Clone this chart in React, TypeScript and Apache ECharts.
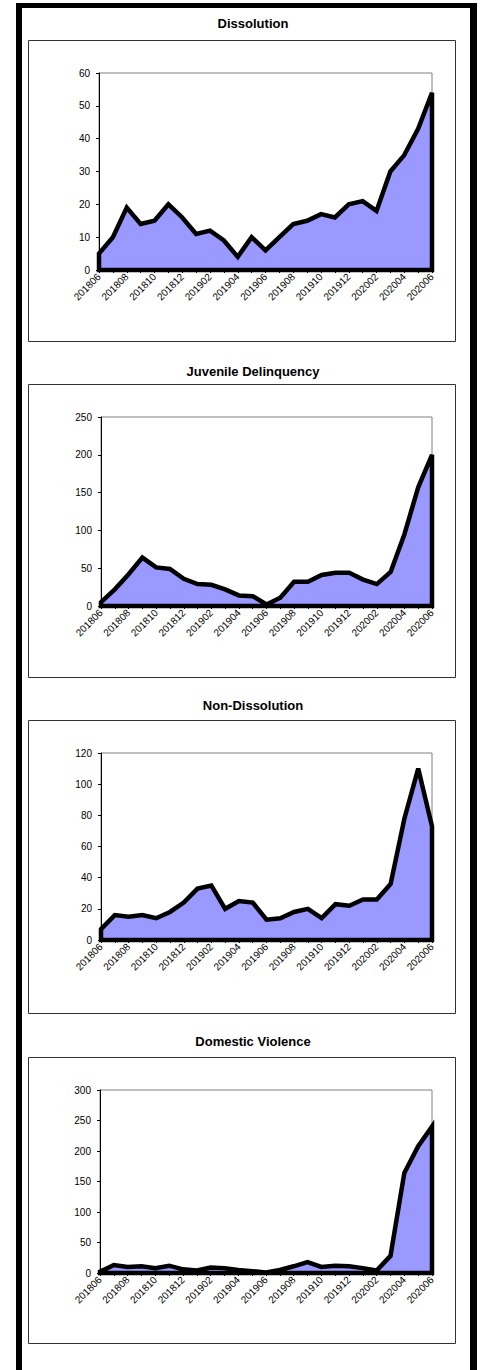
import React, { useEffect, useRef } from "react";
import * as echarts from "echarts";

const months = [
  "201806", "201807", "201808", "201809", "201810", "201811", "201812",
  "201901", "201902", "201903", "201904", "201905", "201906", "201907",
  "201908", "201909", "201910", "201911", "201912", "202001", "202002",
  "202003", "202004", "202005", "202006",
];

const dissolution = [5, 10, 19, 14, 15, 20, 16, 11, 12, 9, 4, 10, 6, 10, 14, 15, 17, 16, 20, 21, 18, 30, 35, 43, 54];
const juvenileDelinquency = [5, 22, 42, 64, 51, 49, 36, 29, 28, 22, 14, 13, 2, 11, 32, 32, 41, 44, 44, 35, 29, 45, 95, 157, 200];
const nonDissolution = [7, 16, 15, 16, 14, 18, 24, 33, 35, 20, 25, 24, 13, 14, 18, 20, 14, 23, 22, 26, 26, 36, 78, 110, 73];
const domesticViolence = [2, 13, 10, 11, 8, 12, 6, 4, 9, 8, 5, 3, 1, 5, 11, 18, 10, 12, 11, 8, 4, 28, 164, 208, 240];

const titles = ["Dissolution", "Juvenile Delinquency", "Non-Dissolution", "Domestic Violence"];
const yMax = [60, 250, 120, 300];
const yStep = [10, 50, 20, 50];
const seriesData = [dissolution, juvenileDelinquency, nonDissolution, domesticViolence];

const FONT = "'Liberation Sans', Arial, sans-serif";

// layout
const grids = [
  { left: 99, top: 73, width: 333, height: 197 },
  { left: 101, top: 417, width: 331, height: 189 },
  { left: 101, top: 753, width: 331, height: 187 },
  { left: 100, top: 1090, width: 332, height: 183 },
];
const frames = [
  { y: 40, h: 301 },
  { y: 384, h: 293 },
  { y: 720, h: 293 },
  { y: 1057, h: 286 },
];
const titleY = [12, 360, 694, 1030];

export default function App() {
  const ref = useRef<HTMLDivElement>(null);

  useEffect(() => {
    if (!ref.current) return;
    const chart = echarts.init(ref.current, undefined, { renderer: "svg" });

    const option: any = {
      animation: false,
      backgroundColor: "#ffffff",
      title: titles.map((t, i) => ({
        text: t,
        left: 248,
        top: titleY[i],
        textAlign: "center",
        textStyle: { fontFamily: FONT, fontSize: 13, fontWeight: "bold", color: "#000" },
      })),
      grid: grids.map((g) => ({
        ...g,
        show: true,
        borderColor: "#808080",
        borderWidth: 1,
        backgroundColor: "#ffffff",
        containLabel: false,
      })),
      xAxis: grids.map((_, i) => ({
        type: "category",
        gridIndex: i,
        data: months,
        boundaryGap: false,
        axisLine: { lineStyle: { color: "#000", width: 1 } },
        axisTick: { show: true, interval: 0, length: 3, lineStyle: { color: "#000" } },
        axisLabel: {
          interval: 1,
          rotate: 45,
          fontSize: 10,
          color: "#000",
          fontFamily: FONT,
          margin: 5,
        },
        splitLine: { show: false },
      })),
      yAxis: grids.map((_, i) => ({
        type: "value",
        gridIndex: i,
        min: 0,
        max: yMax[i],
        interval: yStep[i],
        axisLine: { show: true, lineStyle: { color: "#000", width: 1 } },
        axisTick: { show: true, length: 3, lineStyle: { color: "#000" } },
        axisLabel: { fontSize: 10, color: "#000", fontFamily: FONT, margin: 9 },
        splitLine: { show: false },
      })),
      series: seriesData.map((vals, gi) => ({
        type: "custom",
        xAxisIndex: gi,
        yAxisIndex: gi,
        data: vals.map((v, i) => [i, v]),
        encode: { x: 0, y: 1 },
        renderItem: (params: any, api: any) => {
          if (params.dataIndex !== 0) return null;
          const pts: number[][] = [api.coord([0, 0])];
          vals.forEach((v, i) => pts.push(api.coord([i, v])));
          pts.push(api.coord([vals.length - 1, 0]));
          return {
            type: "polygon",
            shape: { points: pts },
            style: { fill: "#9999FF", stroke: "#000000", lineWidth: 4.5, lineJoin: "miter" },
          };
        },
        z: 5,
      })),
      graphic: [
        // outer black border
        { type: "rect", shape: { x: 16, y: 3, width: 6, height: 1367 }, style: { fill: "#000" }, z: 100 },
        { type: "rect", shape: { x: 16, y: 3, width: 461, height: 5 }, style: { fill: "#000" }, z: 100 },
        { type: "rect", shape: { x: 470, y: 3, width: 7, height: 1367 }, style: { fill: "#000" }, z: 100 },
        // chart frames
        ...frames.map((f) => ({
          type: "rect",
          shape: { x: 28.5, y: f.y + 0.5, width: 427, height: f.h },
          style: { fill: "none", stroke: "#333333", lineWidth: 1 },
          z: 50,
        })),
      ],
    };

    chart.setOption(option);
    return () => chart.dispose();
  }, []);

  return (
    <div
      ref={ref}
      style={{ position: "absolute", left: 0, top: 0, width: 480, height: 1370 }}
    />
  );
}
